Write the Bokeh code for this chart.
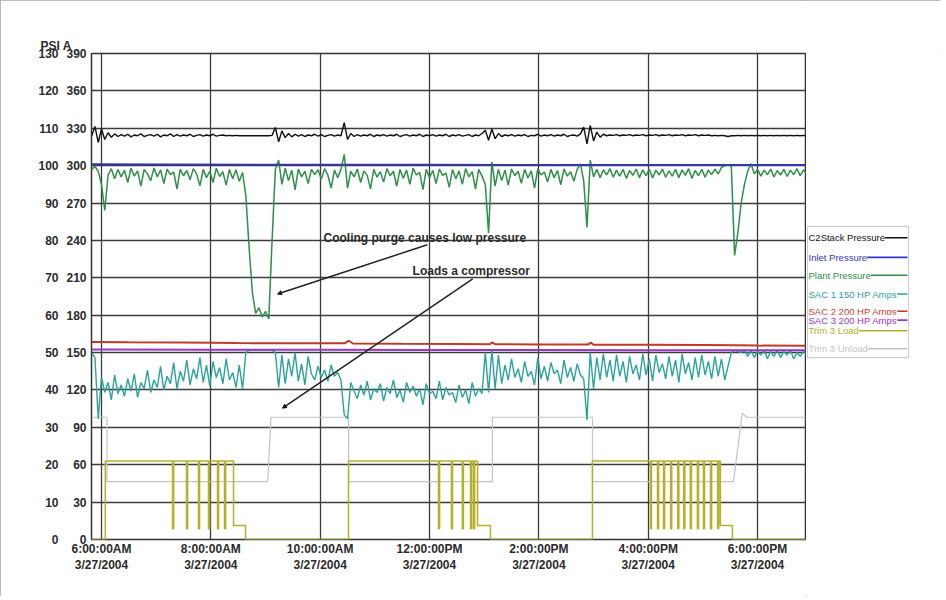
import numpy as np
from bokeh.plotting import figure
from bokeh.layouts import row
from bokeh.models import (Range1d, LinearAxis, FixedTicker, Label, Arrow, NormalHead)
from bokeh.embed import file_html
from bokeh.resources import INLINE

# ---------------- data ----------------
# sampling: every 0.06 h (3.6 min) from 5.82 h
T0 = 5.82
DT = 0.06

plant_pressure = [  # psi (Plant Pressure, green)
    99.0, 99.8, 98.5, 95.0, 88.0, 97.5, 99.2, 96.5, 99.0, 97.0,
    98.8, 95.5, 99.3, 97.2, 98.6, 94.5, 99.0, 97.8, 96.0, 99.4,
    97.0, 98.9, 95.2, 99.1, 97.6, 98.3, 93.8, 99.0, 97.3, 98.7,
    96.2, 99.2, 97.8, 94.6, 99.0, 96.8, 98.5, 95.5, 99.3, 97.1,
    98.4, 94.8, 99.0, 96.5, 98.9, 95.8, 98.2, 92.0, 78.0, 66.0,
    60.5, 62.0, 59.5, 61.0, 59.0, 80.0, 99.0, 101.5, 95.0, 99.3,
    96.0, 98.8, 93.5, 99.1, 97.0, 98.5, 95.2, 99.0, 97.6, 98.9,
    96.4, 99.2, 97.5, 94.0, 98.8, 96.8, 99.0, 103.0, 94.0, 98.5,
    97.0, 99.1, 95.5, 98.6, 97.4, 93.8, 99.0, 96.9, 98.4, 95.6,
    99.2, 97.3, 98.5, 94.5, 99.0, 96.6, 98.8, 95.0, 99.3, 97.5,
    98.2, 93.6, 99.0, 96.8, 98.7, 95.2, 99.1, 97.4, 98.0, 94.2,
    99.0, 96.5, 98.6, 95.0, 99.2, 97.0, 98.4, 93.8, 99.0, 97.2,
    95.0, 82.0, 101.0, 94.5, 99.0, 96.0, 98.8, 94.8, 99.1, 97.3,
    98.5, 95.3, 99.0, 96.7, 98.6, 94.0, 99.2, 97.5, 98.3, 95.6,
    99.0, 96.8, 98.7, 94.9, 99.1, 97.2, 98.4, 95.8, 99.0, 100.5,
    96.0, 83.5, 101.5, 97.0, 99.0, 96.8, 98.9, 97.5, 99.2, 96.9,
    98.8, 97.2, 99.0, 96.6, 98.7, 97.4, 99.1, 96.8, 98.9, 97.3,
    99.0, 96.7, 98.8, 97.5, 99.1, 96.9, 98.6, 97.2, 99.0, 96.8,
    98.9, 97.4, 99.2, 96.6, 98.7, 97.3, 99.0, 96.9, 98.8, 97.6,
    99.1, 97.8, 99.5, 100.0, 100.2, 99.8, 76.0, 82.0, 90.0, 95.0,
    98.5, 100.5, 97.8, 99.0, 97.2, 98.8, 97.6, 99.1, 97.0, 98.7,
    97.5, 99.0, 97.1, 98.8, 97.6, 99.2, 97.3, 98.9, 97.8,
]

sac1_amps = [  # amps (SAC 1 150 HP, teal)
    150, 146, 97, 130, 118, 126, 112, 132, 117, 124,
    115, 129, 119, 133, 114, 126, 121, 136, 118, 128,
    122, 139, 120, 131, 125, 142, 121, 135, 127, 144,
    124, 137, 129, 146, 126, 140, 123, 143, 130, 138,
    125, 145, 128, 134, 122, 140, 121, 150, 152, 152,
    152, 152, 152, 152, 152, 152, 150, 122, 148, 125,
    145, 131, 150, 127, 141, 124, 147, 133, 128, 139,
    130, 136, 127, 140, 131, 134, 128, 100, 97, 126,
    119, 113, 124, 116, 127, 112, 121, 118, 125, 111,
    122, 117, 128, 114, 120, 110, 126, 118, 123, 115,
    121, 108, 125, 117, 119, 113, 127, 112, 122, 116,
    118, 110, 124, 114, 120, 109, 126, 115, 121, 117,
    150, 118, 152, 121, 148, 125, 140, 128, 145, 130,
    137, 126, 143, 131, 135, 124, 146, 129, 139, 127,
    142, 133, 136, 125, 144, 130, 138, 127, 141, 132,
    129, 96, 150, 121, 146, 128, 149, 130, 144, 127,
    148, 131, 143, 126, 147, 133, 140, 128, 149, 132,
    145, 127, 148, 134, 141, 129, 147, 131, 144, 126,
    149, 133, 142, 128, 146, 130, 148, 132, 143, 129,
    147, 131, 145, 128, 139, 150, 152, 151, 150, 152,
    147, 152, 146, 151, 148, 152, 145, 151, 147, 152,
    146, 151, 148, 152, 145, 150, 147, 151, 148,
]

stack_pressure = [  # psi (C2Stack Pressure, black)
    108.0, 110.5, 106.2, 109.8, 107.0, 108.8, 107.6, 108.5, 107.8, 108.3,
    107.9, 108.4, 107.7, 108.2, 108.0, 108.5, 107.8, 108.1, 108.3, 107.9,
    108.4, 107.7, 108.2, 108.0, 108.5, 107.8, 108.3, 107.9, 108.2, 108.0,
    108.4, 107.8, 108.1, 108.3, 107.9, 108.2, 108.0, 108.4, 107.9, 108.1,
    108.2, 108.0, 108.1, 108.0, 108.1, 108.0, 108.0, 108.0, 108.0, 108.0,
    108.0, 108.0, 108.0, 108.0, 108.0, 108.1, 110.2, 106.4, 109.3, 107.5,
    108.6, 107.7, 108.4, 107.9, 108.3, 107.8, 108.2, 108.0, 108.4, 107.9,
    108.3, 107.8, 108.1, 108.3, 107.9, 108.2, 108.0, 111.5, 107.0, 108.6,
    107.8, 108.3, 107.9, 108.2, 108.0, 108.4, 107.8, 108.2, 108.0, 108.3,
    107.9, 108.2, 108.0, 108.4, 107.8, 108.1, 108.3, 107.9, 108.2, 108.0,
    108.4, 107.8, 108.2, 108.0, 108.3, 107.9, 108.2, 108.0, 108.4, 107.8,
    108.2, 108.0, 108.3, 107.9, 108.1, 108.3, 107.8, 108.2, 108.0, 108.6,
    109.5, 106.8, 109.8, 107.2, 108.6, 107.8, 108.2, 108.0, 108.3, 107.9,
    108.2, 108.0, 108.3, 107.8, 108.1, 108.0, 108.4, 107.9, 108.2, 108.0,
    108.3, 107.9, 108.2, 108.0, 108.4, 107.8, 108.1, 108.2, 107.9, 108.5,
    110.3, 105.8, 110.8, 106.6, 109.0, 107.6, 108.4, 108.0, 108.2, 108.1,
    108.3, 108.0, 108.2, 108.1, 108.3, 108.0, 108.2, 108.1, 108.3, 108.0,
    108.2, 108.1, 108.3, 108.0, 108.2, 108.1, 108.3, 108.0, 108.2, 108.1,
    108.3, 108.0, 108.2, 108.1, 108.3, 108.0, 108.2, 108.1, 108.2, 108.0,
    108.1, 108.0, 108.1, 108.0, 107.8, 108.0, 108.0, 108.1, 108.0, 108.1,
    108.0, 108.1, 108.0, 108.1, 108.0, 108.1, 108.0, 108.1, 108.0, 108.1,
    108.0, 108.1, 108.0, 108.1, 108.0, 108.1, 108.0, 108.1, 108.0,
]

inlet_t = [5.82, 9.0, 12.0, 15.0, 18.9]
inlet_v = [100.4, 100.3, 100.3, 100.2, 100.2]            # psi

sac2_t = [5.82, 6.5, 7.5, 8.5, 9.5, 10.45, 10.52, 10.6, 11.5, 12.5, 13.1, 13.15,
          13.2, 14.0, 14.9, 14.95, 15.0, 16.0, 17.0, 17.6, 18.0, 18.9]
sac2_v = [158.5, 158.2, 158.0, 157.6, 157.5, 157.4, 159.5, 157.3, 157.0, 156.8, 156.7, 158.2,
          156.7, 156.5, 156.4, 158.0, 156.3, 156.2, 156.0, 155.8, 155.6, 155.4]   # amps

sac3_t = [5.82, 8.0, 10.0, 12.0, 14.0, 16.0, 18.0, 18.9]
sac3_v = [152.5, 152.3, 152.2, 152.0, 152.0, 151.9, 151.8, 151.8]                  # amps

trim_t = [5.82, 6.07, 7.30, 7.32, 7.555, 7.575, 7.774, 7.794, 7.957, 7.977, 8.122, 8.142,
          8.25, 8.27, 8.415, 8.634,
          10.518, 12.164, 12.184, 12.40, 12.42, 12.60, 12.62, 12.75, 12.77, 12.805, 12.825,
          12.878, 13.115,
          14.98, 16.04, 16.06, 16.17, 16.19, 16.28, 16.30, 16.41, 16.43, 16.54, 16.56,
          16.65, 16.67, 16.77, 16.79, 16.90, 16.92, 17.01, 17.03, 17.14, 17.16, 17.27, 17.29,
          17.32, 17.54, 18.9]
trim_v = [0, 21, 2.9, 21, 2.9, 21, 2.9, 21, 2.9, 21, 2.9, 21,
          2.9, 21, 3.75, 0,
          21, 2.9, 21, 2.9, 21, 2.9, 21, 2.9, 21, 2.9, 21,
          3.75, 0,
          21, 2.9, 21, 2.9, 21, 2.9, 21, 2.9, 21, 2.9, 21,
          2.9, 21, 2.9, 21, 2.9, 21, 2.9, 21, 2.9, 21, 2.9, 21,
          3.75, 0, 0]                                                            # psi

unload_t = [5.82, 6.10, 6.10, 9.04, 9.10, 10.52, 10.52, 13.15, 13.15, 14.98, 14.98,
            17.56, 17.72, 17.80, 18.9]
unload_v = [32.7, 32.7, 15.5, 15.5, 32.7, 32.7, 15.5, 15.5, 32.7, 32.7, 15.5,
            15.5, 33.8, 32.7, 32.7]                                              # psi

series_names = ["C2Stack Pressure", "Inlet Pressure", "Plant Pressure", "SAC 1 150 HP Amps",
                "SAC 2 200 HP Amps", "SAC 3 200 HP Amps", "Trim 3 Load", "Trim 3 Unload"]

x_ticks = [6, 8, 10, 12, 14, 16, 18]
x_tick_labels = ["6:00:00AM\n3/27/2004", "8:00:00AM\n3/27/2004", "10:00:00AM\n3/27/2004",
                 "12:00:00PM\n3/27/2004", "2:00:00PM\n3/27/2004", "4:00:00PM\n3/27/2004",
                 "6:00:00PM\n3/27/2004"]
psi_ticks = list(range(0, 131, 10))
amp_ticks = list(range(0, 391, 30))

# annotations (x in hours, y on the 0-390 scale)
note1_text = "Cooling purge causes low pressure"
note1_pos = (10.06, 242)
note1_line = (11.96, 236.5, 9.22, 197)
note2_text = "Loads a compressor"
note2_pos = (11.69, 215.6)
note2_line = (12.79, 209.2, 9.31, 105.4)

# ---------------- main figure ----------------
t_grid = np.round(T0 + DT * np.arange(len(plant_pressure)), 3)

FONT = "Liberation Sans"
TXT = "#2b2b2b"
H = 596

p = figure(width=806, height=H, x_range=Range1d(5.817, 18.877), y_range=Range1d(0, 390),
           output_backend="svg", toolbar_location=None,
           min_border_left=91, min_border_top=53, min_border_bottom=H - 539, min_border_right=1,
           background_fill_color="white", border_fill_color="white")
p.extra_y_ranges = {"psi": Range1d(0, 130)}

p.outline_line_color = "#333333"
p.outline_line_width = 1.5

ya = p.yaxis[0]
ya.ticker = FixedTicker(ticks=amp_ticks)
ya.axis_line_color = None
ya.major_tick_line_color = None
ya.minor_tick_line_color = None
ya.major_tick_out = 0
ya.major_label_standoff = 5
ya.major_label_text_font = FONT
ya.major_label_text_font_size = "12px"
ya.major_label_text_font_style = "bold"
ya.major_label_text_color = TXT

pa = LinearAxis(y_range_name="psi", ticker=FixedTicker(ticks=psi_ticks))
pa.axis_line_color = None
pa.major_tick_line_color = None
pa.minor_tick_line_color = None
pa.major_tick_out = 0
pa.major_label_standoff = 5
pa.major_label_text_font = FONT
pa.major_label_text_font_size = "12px"
pa.major_label_text_font_style = "bold"
pa.major_label_text_color = TXT
p.add_layout(pa, "left")

xa = p.xaxis[0]
xa.ticker = FixedTicker(ticks=x_ticks)
xa.major_label_overrides = {k: v for k, v in zip(x_ticks, x_tick_labels)}
xa.axis_line_color = None
xa.major_tick_line_color = None
xa.minor_tick_line_color = None
xa.major_tick_out = 0
xa.major_label_standoff = 2
xa.major_label_text_font = FONT
xa.major_label_text_font_size = "12px"
xa.major_label_text_font_style = "bold"
xa.major_label_text_color = TXT

p.xgrid.ticker = FixedTicker(ticks=x_ticks)
p.ygrid.ticker = FixedTicker(ticks=amp_ticks)
for g in (p.xgrid[0], p.ygrid[0]):
    g.grid_line_color = "#3c3c3c"
    g.grid_line_width = 1.3

p.title.text = "PSI A"
p.title.align = "left"
p.title.offset = -51
p.title.standoff = 1
p.title.text_font = FONT
p.title.text_font_size = "12px"
p.title.text_font_style = "bold"
p.title.text_color = TXT

colors = ["#111111", "#3434c8", "#2e8f48", "#2aa39a", "#c0392b", "#9a35c4", "#b5b02a", "#c4c4c4"]

p.line(unload_t, unload_v, y_range_name="psi", line_color=colors[7], line_width=1.2)
p.step(trim_t, trim_v, mode="after", y_range_name="psi", line_color=colors[6], line_width=1.5)
p.line(t_grid, sac1_amps, line_color=colors[3], line_width=1.4)
p.line(sac3_t, sac3_v, line_color=colors[5], line_width=2)
p.line(sac2_t, sac2_v, line_color=colors[4], line_width=2)
p.line(t_grid, plant_pressure, y_range_name="psi", line_color=colors[2], line_width=1.5)
p.line(inlet_t, inlet_v, y_range_name="psi", line_color=colors[1], line_width=1.6)
p.line(t_grid, stack_pressure, y_range_name="psi", line_color=colors[0], line_width=1.4)

for (txt, pos) in ((note1_text, note1_pos), (note2_text, note2_pos)):
    p.add_layout(Label(x=pos[0], y=pos[1], text=txt, text_font=FONT, text_font_size="12px",
                       text_font_style="bold", text_color=TXT, text_baseline="middle"))
for ln in (note1_line, note2_line):
    p.add_layout(Arrow(end=NormalHead(size=4, fill_color="#111111", line_color="#111111"),
                       x_start=ln[0], y_start=ln[1], x_end=ln[2], y_end=ln[3],
                       line_color="#222222", line_width=1.5))

# ---------------- legend panel (pixel-like coordinates, y downward) ----------------
LW = 134
lg = figure(width=LW, height=H, x_range=Range1d(0, LW), y_range=Range1d(H, 0),
            output_backend="svg", toolbar_location=None,
            min_border_left=0, min_border_right=0, min_border_top=0, min_border_bottom=0,
            background_fill_color="white", border_fill_color="white")
lg.axis.visible = False
lg.grid.visible = False
lg.outline_line_color = None

box_left, box_right, box_top, box_bottom = 1, 102, 212, 373
row_y = [226, 250, 272, 295, 316, 327, 340, 362]

lg.quad(left=[box_left], right=[box_right], top=[box_top], bottom=[box_bottom],
        fill_color="white", line_color="#cfcfcf", line_width=1.2)
lg.segment(x0=[box_left + 2] * len(row_y), x1=[box_right - 1] * len(row_y),
           y0=row_y, y1=row_y, line_color=colors, line_width=1.6)
for name, yy, c in zip(series_names, row_y, colors):
    lg.add_layout(Label(x=box_left + 1, y=yy, text=name, text_font=FONT, text_font_size="9.5px",
                        text_color=c, text_baseline="middle",
                        background_fill_color="white", background_fill_alpha=1.0))

layout = row(p, lg, styles={"outline": "1px solid #a8a8a8", "outline-offset": "-1px"})
open("out.html", "w").write(file_html(layout, INLINE))
